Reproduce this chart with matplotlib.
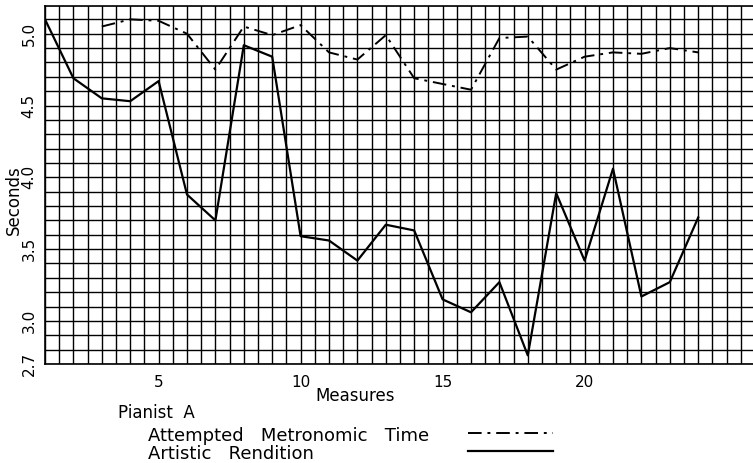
import matplotlib
matplotlib.use("Agg")
import matplotlib.pyplot as plt
from matplotlib.lines import Line2D
import numpy as np

# measures and seconds per measure
measures = np.arange(1, 25)
artistic = [5.10, 4.69, 4.55, 4.53, 4.67, 3.88, 3.70, 4.92, 4.84, 3.59, 3.56, 3.42,
            3.67, 3.63, 3.15, 3.06, 3.27, 2.76, 3.89, 3.42, 4.06, 3.17, 3.27, 3.72]
metronomic_measures = np.arange(3, 25)
metronomic = [5.05, 5.10, 5.09, 5.00, 4.75, 5.05, 4.99, 5.06, 4.87, 4.82, 4.99,
              4.69, 4.65, 4.61, 4.97, 4.98, 4.75, 4.84, 4.87, 4.86, 4.90, 4.87]
y_ticks = [2.7, 3.0, 3.5, 4.0, 4.5, 5.0]
x_ticks = [5, 10, 15, 20]

plt.rcParams['font.family'] = ['DejaVu Sans']

fig = plt.figure(figsize=(7.53, 4.63), dpi=100)
ax = fig.add_axes([45 / 753, 99 / 463, 708 / 753, 358 / 463])

# graph paper grid: half measure by tenth of a second
for gx in np.arange(1, 26.5, 0.5):
    ax.axvline(gx, color='black', linewidth=1.0, zorder=0)
for gy in np.round(np.arange(2.7, 5.25, 0.1), 2):
    ax.axhline(gy, color='black', linewidth=1.0, zorder=0)
ax.tick_params(which='both', length=0)

dash_dot = (0, (7, 3, 1.5, 3))
ax.plot(metronomic_measures, metronomic, color='black', linewidth=1.4,
        linestyle=dash_dot)
ax.plot(measures, artistic, color='black', linewidth=1.6)

ax.set_xlim(1, 1 + 708 / 28.4)
ax.set_ylim(2.7, 2.7 + 358 / 143.6)

ax.set_xticks(x_ticks)
ax.set_xticklabels([str(t) for t in x_ticks], fontsize=11)
ax.set_yticks(y_ticks)
ax.set_yticklabels([f'{t:.1f}' for t in y_ticks], fontsize=11, rotation=90, va='center')
ax.tick_params(axis='x', pad=8)
ax.tick_params(axis='y', pad=6)

for s in ['left', 'top', 'bottom']:
    ax.spines[s].set_linewidth(1.2)
ax.spines['right'].set_visible(False)

fig.text(14 / 753, 1 - 200 / 463, 'Seconds', fontsize=12, rotation=90,
         ha='center', va='center')
fig.text(355 / 753, 1 - 396 / 463, 'Measures', fontsize=12, ha='center', va='center')

# key below the chart
fig.text(118 / 753, 1 - 413 / 463, 'Pianist  A', fontsize=12, ha='left', va='center')
fig.text(148 / 753, 1 - 436 / 463, 'Attempted   Metronomic   Time', fontsize=13,
         ha='left', va='center')
fig.text(148 / 753, 1 - 454 / 463, 'Artistic   Rendition', fontsize=13,
         ha='left', va='center')
fig.add_artist(Line2D([468 / 753, 553 / 753], [1 - 433 / 463, 1 - 433 / 463],
                      transform=fig.transFigure, color='black', linewidth=1.4,
                      linestyle=dash_dot))
fig.add_artist(Line2D([468 / 753, 553 / 753], [1 - 451 / 463, 1 - 451 / 463],
                      transform=fig.transFigure, color='black', linewidth=1.6))

fig.savefig('out.png', dpi=100)
